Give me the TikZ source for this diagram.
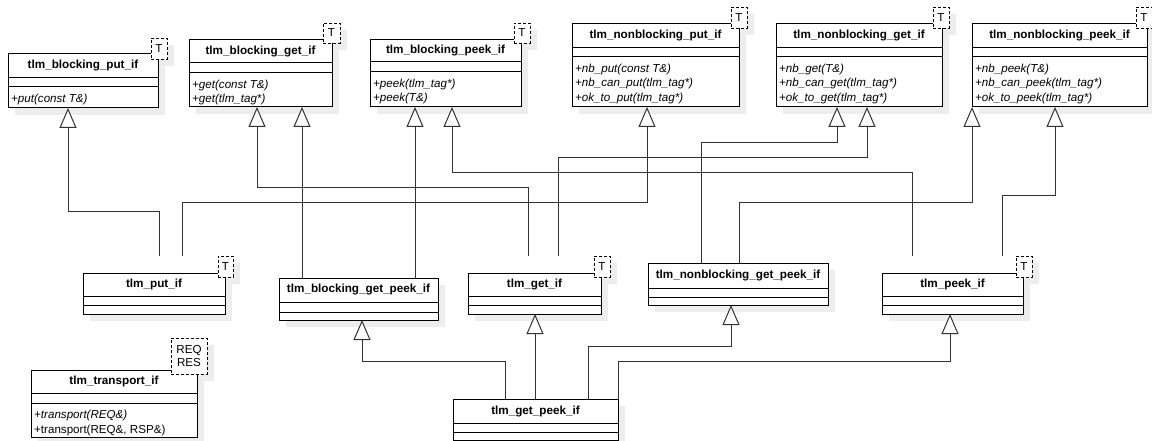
\documentclass[tikz,border=0pt]{standalone}
\usepackage{fontspec}
\setmainfont{Liberation Sans}
\usetikzlibrary{arrows.meta,calc}
\pgfdeclarelayer{bg}
\pgfsetlayers{bg,main}

% class box: name, x1, y1, x2, y2, header line y, second line y, title
\newcommand{\umlclass}[8]{%
  \begin{pgfonlayer}{bg}\fill[drop] (#2+7,#3+7) rectangle (#4+7,#5+7);\end{pgfonlayer}
  \node[cls,anchor=north west,minimum width=#4-#2,minimum height=#5-#3] (#1) at (#2,#3) {};
  \draw[sep] (#2,#6) -- (#4,#6) (#2,#7) -- (#4,#7);
  \node[title] (#1-name) at ({(#2+#4)/2},{(#3+#6)/2}) {#8};}

% operations: name, left x, second line y, list
\newcommand{\umlops}[4]{%
  \foreach \opname [count=\i] in {#4}
    \node[op] (#1-op\i) at (#2+3,{#3+15.5+14.5*(\i-1)}) {\opname};}

% template parameter box: name, x1, y1, x2, y2, text
\newcommand{\tmplbox}[6]{%
  \begin{pgfonlayer}{bg}\fill[drop] (#2+7,#3+7) rectangle (#4+7,#5+7);\end{pgfonlayer}
  \node[tmpl,minimum width=#4-#2,minimum height=#5-#3] (#1) at (#2,#3) {#6};}

\begin{document}
\begin{tikzpicture}[x=1pt,y=-1pt,
  cls/.style={draw=black,fill=white,line width=1pt,inner sep=0pt,outer sep=0pt},
  sep/.style={draw=black,line width=1pt},
  drop/.style={fill=black!7},
  title/.style={font=\fontsize{11.7}{14}\selectfont\bfseries,inner sep=0pt},
  op/.style={font=\fontsize{11.6}{14}\selectfont\itshape,inner sep=0pt,anchor=base west},
  tmpl/.style={draw=black,fill=white,line width=0.9pt,dash pattern=on 3pt off 2pt,
    inner sep=0pt,outer sep=0pt,anchor=north west,
    font=\fontsize{11.6}{13}\selectfont,align=center},
  gen/.style={draw=black!80,line width=1pt,
    -{Triangle[fill=white,length=20pt,width=17pt,line width=1pt]}},
  ]
\useasboundingbox (0,0) rectangle (1152,441);

% ---- classes
\umlclass{bput}{8}{54}{158}{108}{78}{87}{tlm\_blocking\_put\_if}
\umlops{bput}{8}{87}{{+put(const T\&)}}
\tmplbox{bput-t}{151}{38}{167}{59}{T}

\umlclass{bget}{189}{40}{332}{107}{63}{73}{tlm\_blocking\_get\_if}
\umlops{bget}{189}{73}{{+get(const T\&)},{+get(tlm\_tag*)}}
\tmplbox{bget-t}{323}{23}{340}{43}{T}

\umlclass{bpeek}{370}{40}{521}{107}{62}{72}{tlm\_blocking\_peek\_if}
\umlops{bpeek}{370}{72}{{+peek(tlm\_tag*)},{+peek(T\&)}}
\tmplbox{bpeek-t}{514}{23}{530}{43}{T}

\umlclass{nbput}{572}{24}{739}{107}{48}{57}{tlm\_nonblocking\_put\_if}
\umlops{nbput}{572}{57}{{+nb\_put(const T\&)},{+nb\_can\_put(tlm\_tag*)},{+ok\_to\_put(tlm\_tag*)}}
\tmplbox{nbput-t}{731}{7}{747}{28}{T}

\umlclass{nbget}{776}{24}{942}{107}{48}{57}{tlm\_nonblocking\_get\_if}
\umlops{nbget}{776}{57}{{+nb\_get(T\&)},{+nb\_can\_get(tlm\_tag*)},{+ok\_to\_get(tlm\_tag*)}}
\tmplbox{nbget-t}{933}{7}{949}{28}{T}

\umlclass{nbpeek}{972}{24}{1147}{107}{48}{57}{tlm\_nonblocking\_peek\_if}
\umlops{nbpeek}{972}{57}{{+nb\_peek(T\&)},{+nb\_can\_peek(tlm\_tag*)},{+ok\_to\_peek(tlm\_tag*)}}
\tmplbox{nbpeek-t}{1136}{7}{1152}{28}{T}

\umlclass{putif}{83}{273}{225}{314}{296}{305}{tlm\_put\_if}
\tmplbox{putif-t}{218}{256}{233}{277}{T}

\umlclass{bgetpeek}{279}{278}{438}{320}{302}{312}{tlm\_blocking\_get\_peek\_if}

\umlclass{getif}{468}{273}{601}{314}{296}{305}{tlm\_get\_if}
\tmplbox{getif-t}{594}{256}{610}{277}{T}

\umlclass{nbgetpeek}{648}{263}{828}{305}{288}{297}{tlm\_nonblocking\_get\_peek\_if}

\umlclass{peekif}{882}{273}{1023}{314}{296}{305}{tlm\_peek\_if}
\tmplbox{peekif-t}{1016}{256}{1032}{277}{T}

\umlclass{getpeek}{453}{399}{618}{440}{423}{432}{tlm\_get\_peek\_if}

\umlclass{transport}{31}{370}{197}{437}{393}{403}{tlm\_transport\_if}
\umlops{transport}{31}{403}{{+transport(REQ\&)},{\upshape +transport(REQ\&, RSP\&)}}
\tmplbox{transport-t}{171}{338}{207}{374}{REQ\\RES}

% ---- generalisations, top row
\draw[gen] ([xshift=76pt,yshift=17pt]putif.north west) -- ++(0,-45) -| ([xshift=60pt]bput.south west);
\draw[gen] ([xshift=99pt,yshift=17pt]putif.north west) -- ++(0,-53) -| ([xshift=75pt]nbput.south west);
\draw[gen] ([xshift=60pt,yshift=17pt]getif.north west) -- ++(0,-68) -| ([xshift=68pt]bget.south west);
\draw[gen] ([xshift=90pt,yshift=17pt]getif.north west) -- ++(0,-98) -| ([xshift=91pt]nbget.south west);
\draw[gen] ([xshift=23pt]bgetpeek.north west) -- ([xshift=113pt]bget.south west);
\draw[gen] ([xshift=136pt]bgetpeek.north west) -- ([xshift=45pt]bpeek.south west);
\draw[gen] ([xshift=30pt,yshift=17pt]peekif.north west) -- ++(0,-83) -| ([xshift=82pt]bpeek.south west);
\draw[gen] ([xshift=53pt]nbgetpeek.north west) -- ++(0,-120) -| ([xshift=61pt]nbget.south west);
\draw[gen] ([xshift=91pt]nbgetpeek.north west) -- ++(0,-60) -| (nbpeek.south west);
\draw[gen] ([xshift=120pt,yshift=17pt]peekif.north west) -- ++(0,-60) -| ([xshift=83pt]nbpeek.south west);

% ---- generalisations, bottom row
\draw[gen] ([xshift=52pt]getpeek.north west) -- ++(0,-38) -| ([xshift=83pt]bgetpeek.south west);
\draw[gen] ([xshift=82pt]getpeek.north west) -- ([xshift=67pt]getif.south west);
\draw[gen] ([xshift=135pt]getpeek.north west) -- ++(0,-53) -| ([xshift=83pt]nbgetpeek.south west);
\draw[gen] (getpeek.north east) -- ++(0,-38) -| ([xshift=68pt]peekif.south west);
\end{tikzpicture}
\end{document}
